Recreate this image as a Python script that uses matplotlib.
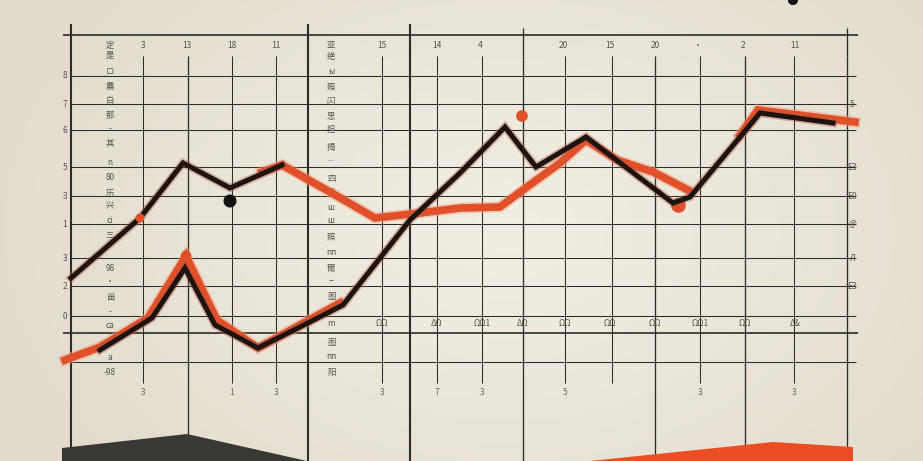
import numpy as np
import matplotlib.pyplot as plt
from matplotlib.patches import Polygon

plt.rcParams['font.family'] = ['Noto Sans CJK SC', 'DejaVu Sans']

# grid positions (chart units)
hgrid_y = [76, 104, 130, 167, 196, 224, 258, 286, 316, 362]
vthin_x = [143, 232, 276, 382, 437, 482, 565, 612, 700, 794]
vfull_x = [188, 523, 655, 745, 847]
vbold_x = [71, 308, 410]

# series
upper_black_x = [71, 140, 183, 230, 282]
upper_black_y = [278, 218, 163, 188, 165]

orange_a_x = [262, 282, 330, 375, 420, 460, 500, 527, 560, 586, 617, 653, 688]
orange_a_y = [172, 165, 192, 218, 213, 208, 207, 187, 163, 140, 160, 172, 190]

lower_orange_x = [65, 100, 148, 186, 217, 258, 300, 340]
lower_orange_y = [360, 347, 318, 256, 320, 348, 325, 303]

main_black_x = [100, 152, 185, 215, 258, 300, 343, 410, 460, 505, 536, 586, 673, 690, 760, 833]
main_black_y = [350, 318, 268, 325, 348, 327, 305, 220, 173, 127, 167, 137, 203, 197, 113, 123]

orange_b_x = [740, 758, 855]
orange_b_y = [135, 110, 122]

# base areas
dark_area_x = [62, 187, 307, 307, 62]
dark_area_y = [448, 434, 461, 461, 461]
orange_area_x = [590, 773, 853, 853, 590]
orange_area_y = [461, 442, 447, 461, 461]

# labels
left_vals = ['8', '7', '6', '5', '3', '1', '3', '2', '0']
left_y = [76, 104, 130, 167, 196, 224, 258, 286, 316]
top_x = [143, 187, 232, 276, 382, 437, 480, 563, 610, 655, 698, 743, 795]
top_txt = ['3', '13', '18', '11', '15', '14', '4', '20', '15', '20', '·', '2', '11']
mid_x = [382, 437, 482, 523, 565, 610, 655, 700, 745, 795]
mid_txt = ['ΩΩ', 'ΔΩ', 'ΩΩ1', 'ΔΩ', 'ΩΩ', 'ΩΩ', 'ΩΩ', 'ΩΩ1', 'ΩΩ', 'Δ&']
bot_x = [143, 232, 276, 382, 437, 482, 565, 700, 794]
bot_txt = ['3', '1', '3', '3', '7', '3', '5', '3', '3']
right_y = [104, 167, 196, 224, 258, 286]
right_txt = ['5', 'E3', 'E0', '@', 'Л', 'E3']
col1_y = [45, 55, 71, 86, 100, 115, 129, 143, 162, 177, 193, 206, 220, 235, 268, 281, 297, 312, 325, 357, 372]
col1_txt = ['定', '是', 'ロ', '農', '白', '那', '-', '其', 'n', '80', '历', '兴', 'ci', '三', '98', '·', '甾', '-', 'ca', 'a', '-98']
col2_y = [45, 57, 71, 87, 101, 116, 129, 147, 158, 178, 190, 207, 220, 237, 252, 268, 281, 296, 323, 342, 356, 372]
col2_txt = ['亚', '绝', 'ы', '照', '闪', '思', '担', '揭', '...', '四', 'щ', 'ш', 'ш', '照', 'пп', '爾', '--', '图', 'm', '图', 'пп', '阳']


def main():
	fig = plt.figure(figsize=(9.23, 4.61), dpi=100)
	ax = fig.add_axes([0, 0, 1, 1])
	ax.set_xlim(0, 923)
	ax.set_ylim(461, 0)
	ax.axis('off')

	# paper background, lighter in the middle
	gx, gy = np.meshgrid(np.linspace(-1, 1, 200), np.linspace(-1, 1, 100))
	r = np.sqrt((gx - 0.1)**2 * 0.8 + gy**2 * 0.4)
	c0 = np.array([0.945, 0.935, 0.895])
	c1 = np.array([0.89, 0.865, 0.81])
	img = c0 + (c1 - c0) * np.clip(r, 0, 1)[..., None]
	ax.imshow(img, extent=(0, 923, 461, 0), aspect='auto', zorder=0)

	gc = '#2e2c28'
	# horizontal grid
	ax.hlines(hgrid_y, 71, 856, color=gc, lw=0.75, zorder=1)
	ax.hlines([35, 333], 63, 858, color=gc, lw=1.2, zorder=1)
	# vertical grid
	ax.vlines(vthin_x, 56, 383, color=gc, lw=0.75, zorder=1)
	ax.vlines(vfull_x, 56, 461, color=gc, lw=0.95, zorder=1)
	ax.vlines([523, 847], 28, 56, color=gc, lw=0.95, zorder=1)
	ax.vlines(vbold_x, 24, 461, color=gc, lw=1.5, zorder=1)

	# base areas
	ax.add_patch(Polygon(np.column_stack([dark_area_x, dark_area_y]), closed=True,
						 fc='#3a3835', ec='none', zorder=2))
	ax.add_patch(Polygon(np.column_stack([orange_area_x, orange_area_y]), closed=True,
						 fc='#ea4e22', ec='none', zorder=2))

	org = '#e0502a'
	blk = '#1d1310'
	# orange lines with soft glow
	for xs, ys in [(orange_a_x, orange_a_y), (lower_orange_x, lower_orange_y), (orange_b_x, orange_b_y)]:
		ax.plot(xs, ys, color='#f2a080', lw=8, alpha=0.45, solid_joinstyle='miter', zorder=3)
		ax.plot(xs, ys, color=org, lw=5.5, solid_joinstyle='miter', zorder=4)

	# black lines with brown halo
	for xs, ys in [(upper_black_x, upper_black_y), (main_black_x, main_black_y)]:
		ax.plot(xs, ys, color='#b0553a', lw=6, alpha=0.4, solid_joinstyle='miter', zorder=5)
		ax.plot(xs, ys, color=blk, lw=3.6, solid_joinstyle='miter', zorder=6)

	# dots
	ax.scatter([522, 186, 140], [116, 256, 218], s=[55, 45, 30], color=org, zorder=7)
	ax.scatter([678], [205], s=90, color=org, zorder=4)
	ax.scatter([230, 793], [201, 0], s=[70, 40], color='#111111', zorder=7)

	tc = '#55524a'
	fs = 6
	for v, y in zip(left_vals, left_y):
		ax.text(65, y, v, ha='center', va='center', fontsize=fs, color=tc)
	for x, t in zip(top_x, top_txt):
		ax.text(x, 45, t, ha='center', va='center', fontsize=fs, color=tc)
	for x, t in zip(mid_x, mid_txt):
		ax.text(x, 323, t, ha='center', va='center', fontsize=fs, color=tc)
	for x, t in zip(bot_x, bot_txt):
		ax.text(x, 392, t, ha='center', va='center', fontsize=fs, color='#6a665c')
	for y, t in zip(right_y, right_txt):
		ax.text(852, y, t, ha='center', va='center', fontsize=fs, color=tc)
	for y, t in zip(col1_y, col1_txt):
		ax.text(110, y, t, ha='center', va='center', fontsize=fs, color=tc)
	for y, t in zip(col2_y, col2_txt):
		ax.text(331, y, t, ha='center', va='center', fontsize=fs, color=tc)

	plt.savefig('out.png', dpi=100)


if __name__ == '__main__':
	main()
